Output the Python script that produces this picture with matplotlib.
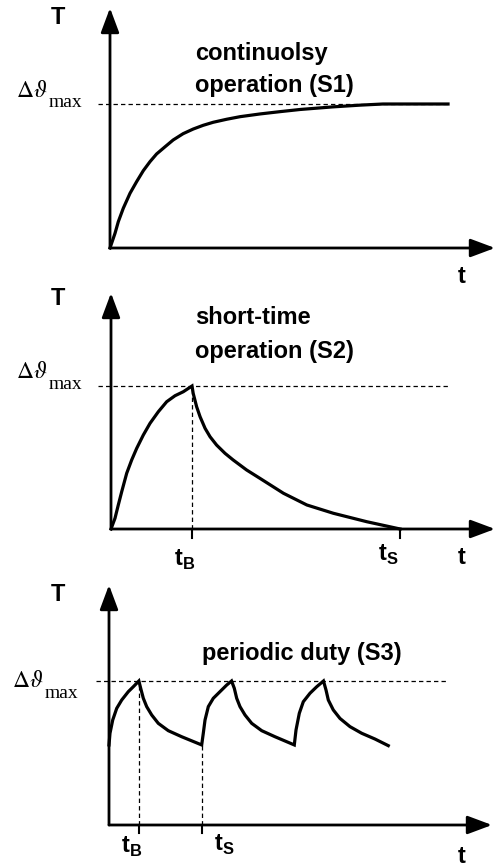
import matplotlib
matplotlib.use("Agg")
import matplotlib.pyplot as plt

plt.rcParams['font.family'] = ['Liberation Sans', 'DejaVu Sans']
plt.rcParams['mathtext.fontset'] = 'custom'
plt.rcParams['mathtext.rm'] = 'Liberation Sans'
plt.rcParams['mathtext.bf'] = 'Liberation Sans:bold'

# --- data (t, T), T = 1 is the max temperature rise ---
# S1: continuous operation
s1_t = [0, 0.13, 0.216, 0.345, 0.52, 0.69, 0.865, 1.04, 1.21, 1.43, 1.64, 1.90,
        2.16, 2.42, 2.68, 3.03, 3.38, 3.90, 4.42, 4.94, 5.79, 6.49, 7.09, 8.78]
s1_T = [0, 0.102, 0.183, 0.276, 0.38, 0.46, 0.537, 0.60, 0.653, 0.703, 0.75, 0.794,
        0.826, 0.852, 0.873, 0.894, 0.912, 0.931, 0.947, 0.962, 0.98, 0.992, 1.0, 1.0]

# S2: short-time operation
s2_t = [0, 0.104, 0.19, 0.279, 0.409, 0.539, 0.669, 0.841, 1.016, 1.232, 1.45,
        1.667, 1.883, 2.11,
        2.14, 2.23, 2.32, 2.45, 2.58, 2.75, 2.97, 3.18, 3.53, 3.88, 4.49, 5.10,
        5.79, 6.66, 7.53]
s2_T = [0, 0.075, 0.168, 0.261, 0.39, 0.483, 0.564, 0.657, 0.739, 0.82, 0.89,
        0.932, 0.96, 1.0,
        0.949, 0.855, 0.785, 0.704, 0.645, 0.587, 0.529, 0.483, 0.413, 0.354, 0.25,
        0.168, 0.11, 0.051, 0]
s2_tB = 2.11
s2_tS = 7.53

# S3: periodic duty
s3_t = [0, 0.026, 0.097, 0.201, 0.332, 0.504, 0.634, 0.78,
        0.828, 0.896, 0.984, 1.115, 1.287, 1.548, 1.898, 2.42,
        2.462, 2.507, 2.593, 2.723, 2.898, 3.073, 3.20,
        3.272, 3.334, 3.42, 3.551, 3.726, 3.987, 4.334, 4.838,
        4.883, 4.969, 5.073, 5.248, 5.423, 5.60,
        5.666, 5.726, 5.856, 6.031, 6.292, 6.598, 6.945, 7.292]
s3_T = [0.556, 0.637, 0.729, 0.81, 0.868, 0.926, 0.96, 1.0,
        0.949, 0.88, 0.822, 0.764, 0.706, 0.655, 0.613, 0.556,
        0.637, 0.729, 0.822, 0.88, 0.926, 0.972, 1.0,
        0.949, 0.88, 0.822, 0.764, 0.706, 0.655, 0.613, 0.556,
        0.66, 0.776, 0.856, 0.915, 0.96, 1.0,
        0.9375, 0.868, 0.799, 0.74, 0.683, 0.637, 0.597, 0.551]
s3_tB = 0.78
s3_tS = 2.42
s3_low = 0.556

W, H = 496, 867
fig = plt.figure(figsize=(W / 100, H / 100), dpi=100)

DASH = dict(color='black', lw=0.9, dashes=(3.5, 2.5), clip_on=False)
CURVE = dict(color='black', lw=2.3, solid_joinstyle='miter', clip_on=False)
BOLD = dict(fontsize=17, fontweight='bold', color='black')


def make_panel(ox, oy, right, top, px_per_T):
    ax = fig.add_axes([ox / W, 1 - oy / H, (right - ox) / W, (oy - top) / H])
    ax.set_xlim(0, 10)
    ax.set_ylim(0, (oy - top) / px_per_T)
    ax.axis('off')
    arrow = dict(arrowstyle='-|>,head_length=0.75,head_width=0.28',
                 color='black', lw=2, shrinkA=0, shrinkB=0, mutation_scale=20)
    ax.annotate('', xy=(10, 0), xytext=(0, 0), arrowprops=arrow, annotation_clip=False)
    ax.annotate('', xy=(0, ax.get_ylim()[1]), xytext=(0, 0), arrowprops=arrow,
                annotation_clip=False)
    return ax


def theta_label(ax, x, y):
    d = ax.text(x, y, r'$\Delta\vartheta$', fontsize=17, math_fontfamily='stix',
                ha='left', va='baseline')
    ax.annotate('max', xy=(1, 0), xycoords=d, xytext=(1, -4),
                textcoords='offset points', fontsize=14,
                family='Liberation Serif', ha='left', va='baseline')


def sub_label(ax, x, y, letter):
    ax.text(x, y, r'$\mathbf{t}_\mathbf{%s}$' % letter, ha='center', va='center',
            fontsize=17)


# ---------- panel 1 ----------
ax1 = make_panel(110, 248, 495, 8, 144)
ax1.plot(s1_t, s1_T, **CURVE)
ax1.plot([-0.31, 8.78], [1, 1], **DASH)
ax1.text(-1.35, 1.60, 'T', ha='center', va='center', **BOLD)
ax1.text(9.14, -0.20, 't', ha='center', va='center', **BOLD)
ax1.text(2.21, 1.354, 'continuolsy', ha='left', va='center', **BOLD)
ax1.text(2.21, 1.13, 'operation (S1)', ha='left', va='center', **BOLD)
theta_label(ax1, -2.44, 1.05)

# ---------- panel 2 ----------
ax2 = make_panel(111, 529, 495, 293, 143)
ax2.plot(s2_t, s2_T, **CURVE)
ax2.plot([-0.34, 8.83], [1, 1], **DASH)
ax2.plot([s2_tB, s2_tB], [0, 1], **DASH)
for tk in (s2_tB, s2_tS):
    ax2.plot([tk, tk], [0, -0.065], color='black', lw=1.5, clip_on=False)
ax2.text(-1.38, 1.615, 'T', ha='center', va='center', **BOLD)
ax2.text(9.14, -0.196, 't', ha='center', va='center', **BOLD)
ax2.text(2.19, 1.48, 'short-time', ha='left', va='center', **BOLD)
ax2.text(2.19, 1.24, 'operation (S2)', ha='left', va='center', **BOLD)
sub_label(ax2, 1.93, -0.217, 'B')
sub_label(ax2, 7.21, -0.18, 'S')
theta_label(ax2, -2.47, 1.056)

# ---------- panel 3 ----------
ax3 = make_panel(109, 825, 492, 585, 144)
ax3.plot(s3_t, s3_T, **CURVE)
ax3.plot([-0.34, 8.83], [1, 1], **DASH)
ax3.plot([s3_tB, s3_tB], [0, 1], **DASH)
ax3.plot([s3_tS, s3_tS], [0, s3_low], **DASH)
for tk in (s3_tB, s3_tS):
    ax3.plot([tk, tk], [0, -0.055], color='black', lw=1.5, clip_on=False)
ax3.text(-1.33, 1.60, 'T', ha='center', va='center', **BOLD)
ax3.text(9.22, -0.22, 't', ha='center', va='center', **BOLD)
ax3.text(2.43, 1.19, 'periodic duty (S3)', ha='left', va='center', **BOLD)
sub_label(ax3, 0.60, -0.153, 'B')
sub_label(ax3, 3.00, -0.14, 'S')
theta_label(ax3, -2.53, 0.958)

fig.savefig('out.png', dpi=100, facecolor='white')
